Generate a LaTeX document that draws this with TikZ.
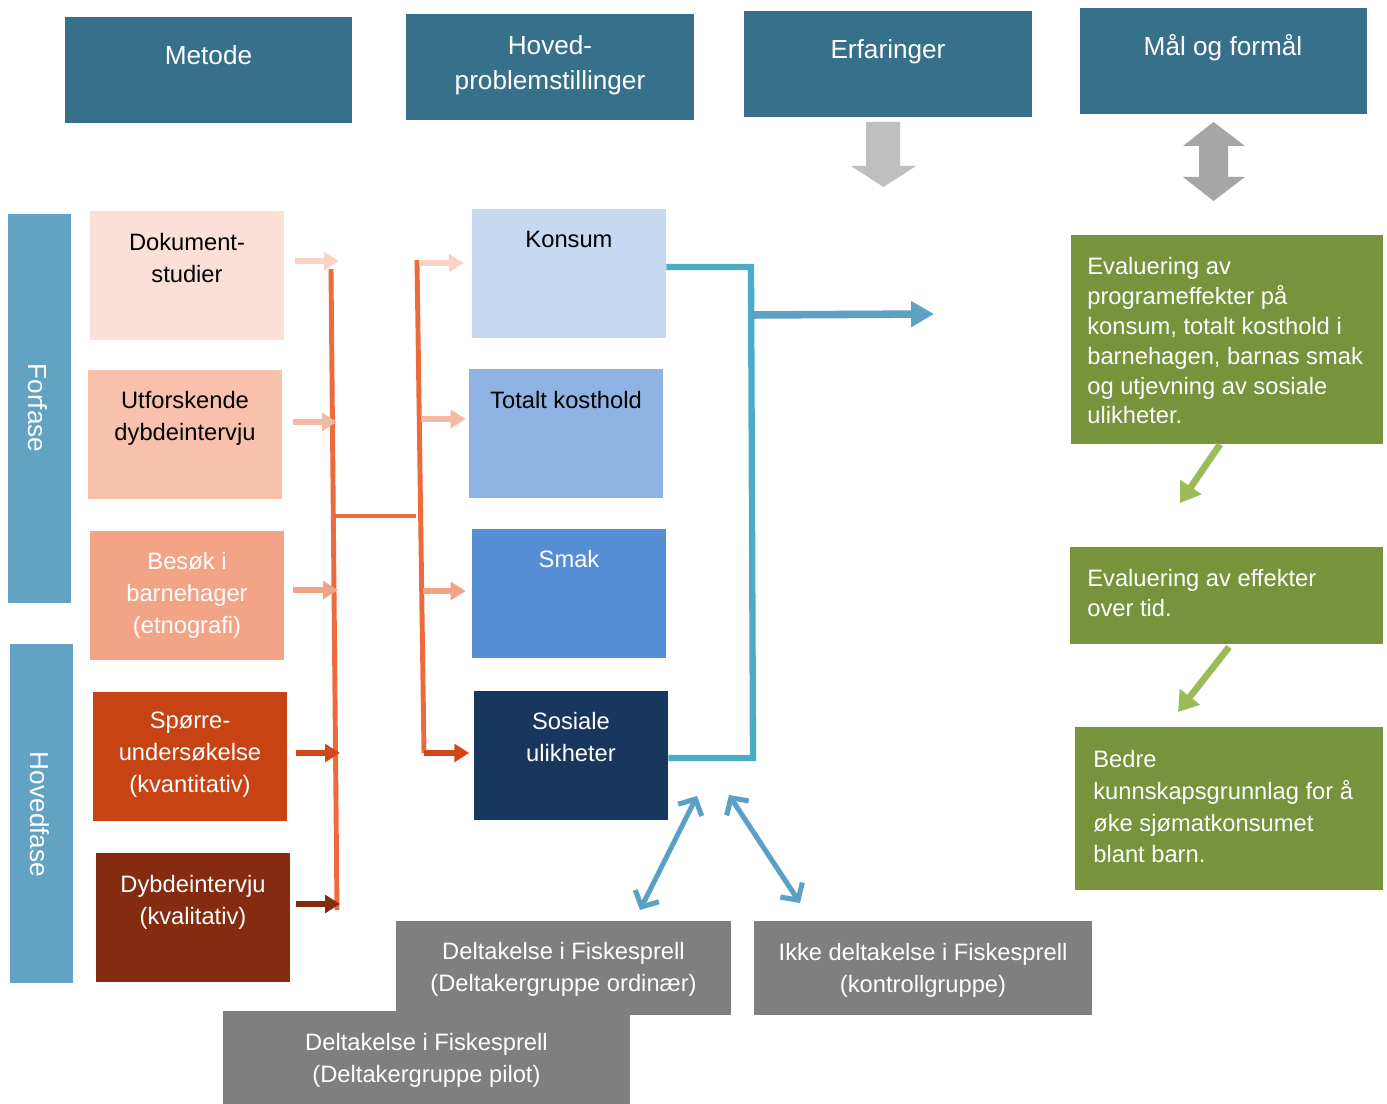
\documentclass[tikz,border=0pt]{standalone}
\usepackage{fontspec}
\setmainfont{Liberation Sans}
\usetikzlibrary{arrows.meta}
\definecolor{hdr}{HTML}{37708B}
\definecolor{phase}{HTML}{62A2C2}
\definecolor{mA}{HTML}{FBE0D7}
\definecolor{mB}{HTML}{F8C1AB}
\definecolor{mC}{HTML}{F3A486}
\definecolor{mD}{HTML}{C84314}
\definecolor{mE}{HTML}{852B0F}
\definecolor{pA}{HTML}{C6D9F0}
\definecolor{pB}{HTML}{8EB3E2}
\definecolor{pC}{HTML}{558ED5}
\definecolor{pD}{HTML}{17375E}
\definecolor{grn}{HTML}{77933C}
\definecolor{grnar}{HTML}{9BBB59}
\definecolor{gry}{HTML}{7F7F7F}
\definecolor{orn}{HTML}{EC6A3C}
\definecolor{aA}{HTML}{F9D3C5}
\definecolor{aB}{HTML}{F5B9A3}
\definecolor{aC}{HTML}{F2A286}
\definecolor{aD}{HTML}{D2461A}
\definecolor{aE}{HTML}{842B10}
\definecolor{bconn}{HTML}{4BACC6}
\definecolor{barr}{HTML}{5BA0C5}
\definecolor{blockA}{HTML}{BFBFBF}
\definecolor{blockB}{HTML}{A6A6A6}
\newcommand\mkbox[6]{\node[box,fill=#6,minimum width={(#4-#2)*0.02cm},minimum height={(#5-#3)*0.02cm}] (#1) at ({(#2+#4)/2},{(#3+#5)/2}) {};}
\tikzset{
  box/.style={draw=none,inner sep=0pt,rectangle},
  hdrtxt/.style={text=white,font=\fontsize{14.9}{19.8}\selectfont,align=center,inner sep=0pt,anchor=north},
  btxt/.style={font=\fontsize{13.5}{18.1}\selectfont,align=center,inner sep=0pt,anchor=north},
  gtxt/.style={text=white,font=\fontsize{13.5}{17}\selectfont,align=left,inner sep=0pt,anchor=north west},
  gtxtb/.style={text=white,font=\fontsize{13.5}{18.1}\selectfont,align=left,inner sep=0pt,anchor=north west},
  ptxt/.style={text=white,font=\fontsize{14.9}{19}\selectfont,inner sep=0pt,rotate=-90},
  oline/.style={draw=orn,line width=2.8pt},
  sarr/.style={line width=3pt,-{Triangle[width=10pt,length=8.5pt]}},
  blueL/.style={draw=bconn,line width=3.6pt},
  barrow/.style={draw=barr,line width=4.3pt,-{Triangle[width=14pt,length=13pt]}},
  dbl/.style={draw=barr,line width=2.9pt,{Straight Barb[length=7pt,width=15pt]}-{Straight Barb[length=7pt,width=15pt]}},
  garrow/.style={draw=grnar,line width=3.8pt,-{Triangle[width=14pt,length=11pt]}}
}
\begin{document}
\begin{tikzpicture}[x=0.02cm,y=-0.02cm]
\useasboundingbox (0,0) rectangle (1387,1104);
% header boxes
\mkbox{hmet}{65}{17}{352}{123}{hdr}
\mkbox{hhov}{406}{14}{694}{120}{hdr}
\mkbox{herf}{744}{11}{1032}{117}{hdr}
\mkbox{hmal}{1080}{8}{1367}{114}{hdr}
\node[hdrtxt] (hmett) at (208.5,45) {Metode};
\node[hdrtxt] (hhovt) at (550,35.5) {Hoved-\\problemstillinger};
\node[hdrtxt] (herft) at (888,39) {Erfaringer};
\node[hdrtxt] (hmalt) at (1223,34) {Mål og formål};
% block arrows
\fill[blockA] (866,122) -- (900,122) -- (900,166) -- (916,166) -- (883.5,187) -- (851,166) -- (866,166) -- cycle;
\fill[blockB] (1213.5,122) -- (1245,146) -- (1228,146) -- (1228,177) -- (1245,177) -- (1213.5,201) -- (1183,177) -- (1199,177) -- (1199,146) -- (1183,146) -- cycle;
% phase bars
\mkbox{forf}{8}{214}{71}{603}{phase}
\mkbox{hovf}{10}{644}{73}{983}{phase}
\node[ptxt] (forft) at (37.5,408) {Forfase};
\node[ptxt] (hovft) at (40,814.5) {Hovedfase};
% method boxes
\mkbox{dok}{90}{211}{284}{340}{mA}
\mkbox{utf}{88}{370}{282}{499}{mB}
\mkbox{bes}{90}{531}{284}{660}{mC}
\mkbox{spo}{93}{692}{287}{821}{mD}
\mkbox{dyb}{96}{853}{290}{982}{mE}
\node[btxt] (dokt) at (187,233) {Dokument-\\studier};
\node[btxt] (utft) at (185,391) {Utforskende\\dybdeintervju};
\node[btxt,text=white] (best) at (187,552) {Besøk i\\barnehager\\(etnografi)};
\node[btxt,text=white] (spot) at (190,712) {Spørre-\\undersøkelse\\(kvantitativ)};
\node[btxt,text=white] (dybt) at (193,875) {Dybdeintervju\\(kvalitativ)};
% problem boxes
\mkbox{kon}{472}{209}{666}{338}{pA}
\mkbox{tot}{469}{369}{663}{498}{pB}
\mkbox{sma}{472}{529}{666}{658}{pC}
\mkbox{sos}{474}{691}{668}{820}{pD}
\node[btxt] (kont) at (569,231) {Konsum};
\node[btxt] (tott) at (566,391) {Totalt kosthold};
\node[btxt,text=white] (smat) at (569,550) {Smak};
\node[btxt,text=white] (sost) at (571,712) {Sosiale\\ulikheter};
% gray boxes
\mkbox{gord}{396}{921}{731}{1015}{gry}
\mkbox{gkon}{754}{921}{1092}{1015}{gry}
\mkbox{gpil}{223}{1011}{630}{1104}{gry}
\node[btxt,text=white] (gordt) at (563.5,942) {Deltakelse i Fiskesprell\\(Deltakergruppe ordinær)};
\node[btxt,text=white] (gkont) at (923,943) {Ikke deltakelse i Fiskesprell\\(kontrollgruppe)};
\node[btxt,text=white] (gpilt) at (426.5,1033) {Deltakelse i Fiskesprell\\(Deltakergruppe pilot)};
% green boxes
\mkbox{eva}{1071}{235}{1383}{444}{grn}
\mkbox{evb}{1070}{547}{1383}{644}{grn}
\mkbox{evc}{1075}{727}{1383}{890}{grn}
\node[gtxt] (evat) at (1087,257) {Evaluering av\\programeffekter på\\konsum, totalt kosthold i\\barnehagen, barnas smak\\og utjevning av sosiale\\ulikheter.};
\node[gtxt] (evbt) at (1087,569) {Evaluering av effekter\\over tid.};
\node[gtxtb] (evct) at (1093,750) {Bedre\\kunnskapsgrunnlag for å\\øke sjømatkonsumet\\blant barn.};
% orange connector structure
\coordinate (o1t) at (331,269);
\coordinate (o1b) at (337,910);
\coordinate (ohA) at (334,516);
\coordinate (ohB) at (416,516);
\coordinate (o2t) at (417,260);
\coordinate (o2b) at (424,753);
\draw[oline] (o1t) -- (o1b);
\draw[oline] (ohA) -- (ohB);
\draw[oline] (o2t) -- (o2b);
% small arrows into line 1
\coordinate (a1s) at (295,261); \coordinate (a1e) at (339,261);
\coordinate (a2s) at (293,422); \coordinate (a2e) at (337,422);
\coordinate (a3s) at (293,590); \coordinate (a3e) at (338,590);
\coordinate (a4s) at (296,753); \coordinate (a4e) at (340,753);
\coordinate (a5s) at (296,904); \coordinate (a5e) at (340,904);
\draw[sarr,draw=aA,fill=aA] (a1s) -- (a1e);
\draw[sarr,draw=aB,fill=aB] (a2s) -- (a2e);
\draw[sarr,draw=aC,fill=aC] (a3s) -- (a3e);
\draw[sarr,draw=aD,fill=aD] (a4s) -- (a4e);
\draw[sarr,draw=aE,fill=aE] (a5s) -- (a5e);
% arrows from line 2 into problem boxes
\coordinate (b1s) at (419,263);
\coordinate (b2s) at (421,419);
\coordinate (b3s) at (423,591);
\draw[sarr,draw=aA,fill=aA,shorten >=4.5pt] (b1s) -- (kon.west |- b1s);
\draw[sarr,draw=aB,fill=aB,shorten >=1.7pt] (b2s) -- (tot.west |- b2s);
\draw[sarr,draw=aC,fill=aC,shorten >=3.4pt] (b3s) -- (sma.west |- b3s);
\draw[sarr,draw=aD,fill=aD,shorten >=2.5pt] (o2b) -- (sos.west |- o2b);
% blue connector
\coordinate (bl1) at (751,267);
\coordinate (bl2) at (753,758);
\coordinate (bl3) at (752,315);
\coordinate (btip) at (934,314);
\draw[blueL,line join=miter] ([yshift=0.13cm]kon.east) -- (bl1) -- (bl2) -- (sos.east |- bl2);
\draw[barrow,fill=barr] (bl3) -- (btip);
% blue double arrows
\coordinate (dA1) at (640,910); \coordinate (dA2) at (697,796);
\coordinate (dB1) at (729,795); \coordinate (dB2) at (800,903);
\draw[dbl] (dA1) -- (dA2);
\draw[dbl] (dB1) -- (dB2);
% green arrows
\coordinate (gA2) at (1180,503);
\coordinate (gB1) at (1229,647);
\coordinate (gB2) at (1178,712);
\draw[garrow,fill=grnar] ([xshift=-4pt]eva.south) -- (gA2);
\draw[garrow,fill=grnar] (gB1) -- (gB2);
\end{tikzpicture}
\end{document}
